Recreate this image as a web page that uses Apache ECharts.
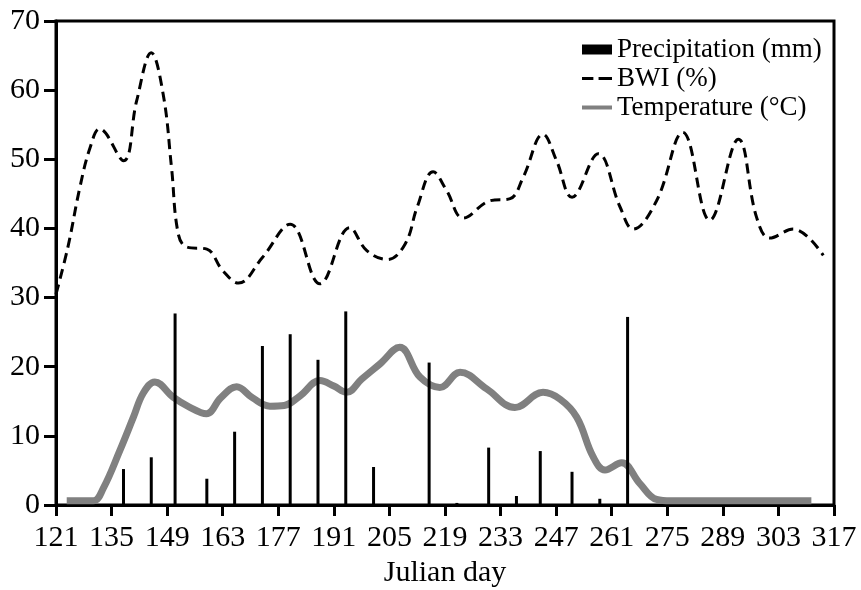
<!DOCTYPE html>
<html>
<head>
<meta charset="utf-8">
<script src="https://cdn.jsdelivr.net/npm/echarts@6/dist/echarts.min.js"></script>
<style>html,body{margin:0;padding:0;background:#fff;}#c{width:861px;height:590px;}</style>
</head>
<body>
<div id="c"></div>
<script>
// Precipitation (mm) by Julian day
const precipDays = [138, 145, 151, 159, 166, 173, 180, 187, 194, 201, 215, 222, 230, 237, 243, 251, 258, 265];
const precipValues = [5.2, 6.9, 27.7, 3.8, 10.6, 23.0, 24.7, 21.0, 28.0, 5.5, 20.6, 0.3, 8.3, 1.3, 7.8, 4.8, 0.9, 27.2];

// BWI (%) by Julian day
const bwiDays = [121, 124, 127, 129.6, 132, 138, 141.3, 145, 148, 150.1, 151.8, 154, 159, 163, 167, 173, 180, 187.5, 195, 199.3, 204.5, 209, 212, 216, 219.4, 223.6, 230.3, 235.4, 238.7, 243.7, 247.1, 251, 257.6, 263.1, 266.4, 272.3, 278.9, 285.7, 292.9, 297.5, 300.8, 306.7, 314.3];
const bwiValues = [30.5, 37.3, 45.9, 51.7, 54.4, 49.8, 58.4, 65.4, 59.4, 48.8, 39.2, 37.3, 37.0, 33.9, 32.1, 35.8, 40.6, 32.0, 40.1, 36.8, 35.5, 37.8, 43.1, 48.2, 45.5, 41.5, 44.0, 44.3, 47.4, 53.6, 49.8, 44.5, 50.8, 43.1, 39.9, 44.0, 53.9, 41.2, 52.9, 41.6, 38.6, 39.9, 36.1];

// Temperature (°C) by Julian day
const tempDays = [123.7, 130.4, 132.9, 137.1, 140.5, 143, 145.9, 150.5, 154.5, 158.9, 162.5, 166.5, 170.5, 174.9, 178.5, 182.5, 187.5, 191, 194.2, 198, 202.6, 207.6, 212.7, 217.7, 222.8, 229.5, 236.6, 243.7, 248, 252.2, 256.3, 259.3, 263.5, 268.1, 272.3, 276, 311.3];
const tempValues = [0.6, 0.6, 2.4, 7.9, 12.7, 16.2, 17.8, 15.6, 14.2, 13.2, 15.5, 17.1, 15.5, 14.3, 14.4, 15.8, 18.0, 17.2, 16.3, 18.2, 20.4, 22.8, 18.5, 17.0, 19.2, 16.8, 14.1, 16.3, 15.3, 12.7, 7.0, 5.05, 6.1, 3.1, 0.8, 0.6, 0.6];

const xTickMin = 121, xTickMax = 317, xTickStep = 14;
const yTickMin = 0, yTickMax = 70, yTickStep = 10;

const zip = (a, b) => a.map((v, i) => [v, b[i]]);
const FONT = 'Liberation Serif';

const chart = echarts.init(document.getElementById('c'), null, {renderer: 'canvas'});
chart.setOption({
  animation: false,
  backgroundColor: '#fff',
  grid: {left: 56, right: 27, top: 21, bottom: 85, show: true, borderColor: '#000', borderWidth: 3, containLabel: false, outerBoundsMode: 'none'},
  legend: {
    orient: 'vertical', left: 577, top: 31, itemGap: 2,
    itemWidth: 30, itemHeight: 10,
    textStyle: {fontFamily: FONT, fontSize: 27, lineHeight: 26, color: '#000'},
    data: [
      {name: 'Precipitation (mm)', icon: 'rect', itemStyle: {color: '#000'}},
      {name: 'BWI (%)', icon: 'path://M0,0H11V3H0Z M16,0H29V3H16Z', itemStyle: {color: '#000', borderWidth: 0}, lineStyle: {width: 0}},
      {name: 'Temperature (°C)', icon: 'path://M0,0H30V4H0Z', itemStyle: {color: '#808080', borderWidth: 0}, lineStyle: {width: 0}}
    ]
  },
  xAxis: {
    type: 'value', min: xTickMin, max: xTickMax, interval: xTickStep,
    name: 'Julian day', nameLocation: 'middle', nameGap: 53,
    nameTextStyle: {fontFamily: FONT, fontSize: 30, color: '#000'},
    axisLine: {lineStyle: {color: '#000', width: 3}},
    axisTick: {length: 11, lineStyle: {color: '#000', width: 3}},
    axisLabel: {fontFamily: FONT, fontSize: 30, color: '#000', margin: 18},
    splitLine: {show: false}
  },
  yAxis: {
    type: 'value', min: yTickMin, max: yTickMax, interval: yTickStep,
    axisLine: {show: true, lineStyle: {color: '#000', width: 3}},
    axisTick: {show: true, length: 12, lineStyle: {color: '#000', width: 3}},
    axisLabel: {fontFamily: FONT, fontSize: 30, color: '#000', margin: 16},
    splitLine: {show: false}
  },
  series: [
    {
      name: 'Temperature (°C)', type: 'line', data: zip(tempDays, tempValues),
      smooth: 0.4, showSymbol: false, symbol: 'none', z: 2,
      lineStyle: {color: '#808080', width: 7}, itemStyle: {color: '#808080'}
    },
    {
      name: 'BWI (%)', type: 'line', data: zip(bwiDays, bwiValues),
      smooth: 0.4, showSymbol: false, symbol: 'none', z: 3,
      lineStyle: {color: '#000', width: 3, type: [10, 6]}, itemStyle: {color: '#000'}
    },
    {
      name: 'Precipitation (mm)', type: 'bar', data: zip(precipDays, precipValues),
      barWidth: 3, z: 4, itemStyle: {color: '#000'}
    }
  ]
});
</script>
</body>
</html>
